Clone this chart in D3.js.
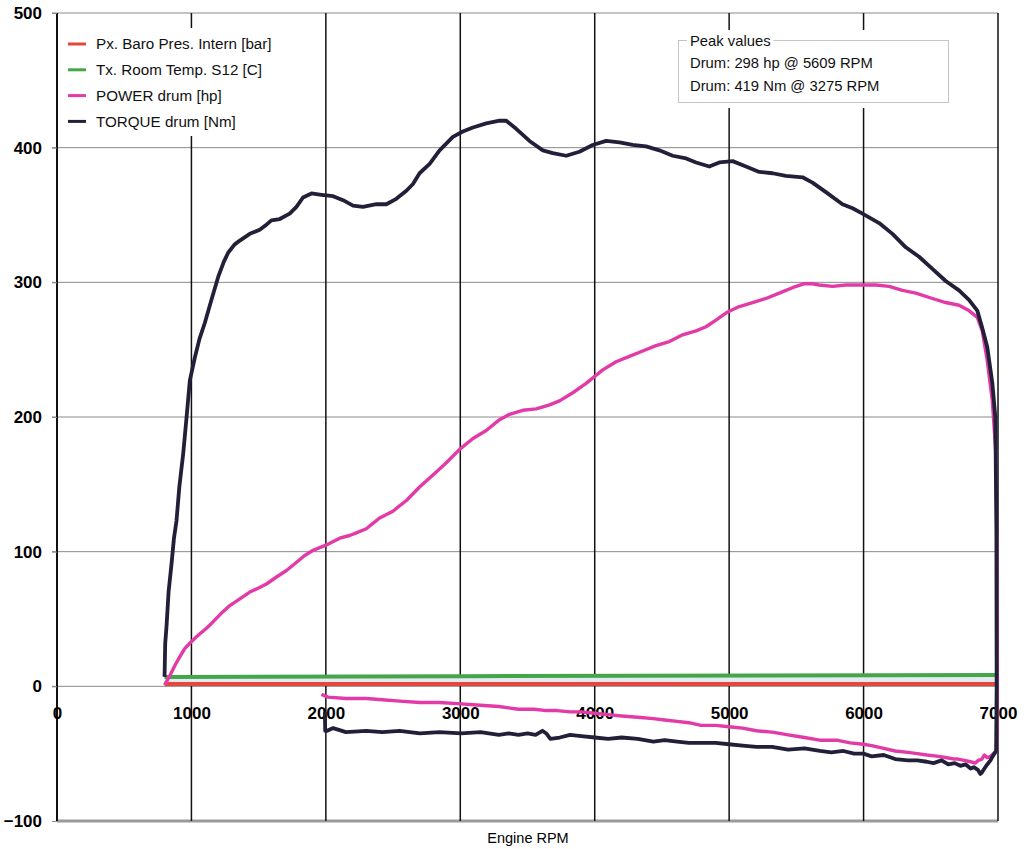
<!DOCTYPE html>
<html lang="en">
<head>
<meta charset="UTF-8">
<title>Dyno run - Power and Torque</title>
<script src="https://cdn.jsdelivr.net/npm/d3@7"></script>
<style>
	body { margin: 0; background: #fff; }
	svg { display: block; font-family: "Liberation Sans", Arial, sans-serif; }
	.ylab text, .xlab text { font-weight: bold; font-size: 17px; fill: #000; }
	.legend text { font-size: 15.2px; fill: #111; }
	.peak text { font-size: 14.8px; fill: #111; }
</style>
</head>
<body>
<div id="container"></div>
<script>

	// ticks
	var xTicks = [0, 1000, 2000, 3000, 4000, 5000, 6000, 7000];
	var yTicks = [-100, 0, 100, 200, 300, 400, 500];

	// series [rpm, value]
	var baroRun = [[800, 1.8], [7000, 1.8]];
	var roomTempRun = [[800, 7], [3000, 7.5], [7000, 8.5]];

	var torqueRun = [[800,7],[805,32],[815,45],[830,70],[852,91],[870,110],[889,123],[910,148],[939,173],[964,200],[988,227],[1025,244],[1060,258],[1100,270],[1149,287],[1199,304],[1240,315],[1273,322],[1320,328],[1360,331],[1434,336],[1508,339],[1560,343],[1595,346],[1657,347],[1731,351],[1781,356],[1830,363],[1893,366],[1967,365],[2054,364],[2128,361],[2202,357],[2276,356],[2376,358],[2450,358],[2524,362],[2599,368],[2648,373],[2697,381],[2772,388],[2846,398],[2945,408],[3019,412],[3094,415],[3193,418],[3292,420],[3342,420],[3416,414],[3515,405],[3614,398],[3688,396],[3788,394],[3886,397],[3985,402],[4085,405],[4184,404],[4283,402],[4382,401],[4481,398],[4580,394],[4680,392],[4754,389],[4852,386],[4927,389],[5026,390],[5125,386],[5224,382],[5323,381],[5422,379],[5546,378],[5620,374],[5720,367],[5843,358],[5918,355],[5992,351],[6116,344],[6215,336],[6314,326],[6413,319],[6512,310],[6611,301],[6710,294],[6784,287],[6846,279],[6883,266],[6920,252],[6958,225],[6980,200],[6988,120],[6990,0],[6986,-48]];

	var torqueCoast = [[6960,-52],[6944,-55],[6920,-58],[6899,-61],[6880,-64],[6869,-65],[6850,-62],[6820,-60],[6796,-61],[6760,-58],[6720,-59],[6678,-57],[6630,-58],[6580,-55],[6520,-57],[6471,-56],[6400,-55],[6330,-55],[6235,-54],[6150,-51],[6060,-52],[5999,-50],[5930,-50],[5850,-48],[5760,-49],[5675,-48],[5560,-46],[5439,-47],[5320,-45],[5203,-45],[5100,-44],[4997,-43],[4900,-42],[4790,-42],[4700,-42],[4613,-41],[4520,-40],[4436,-41],[4320,-39],[4200,-38],[4100,-39],[4000,-38],[3900,-37],[3817,-36],[3740,-38],[3670,-39],[3640,-35],[3611,-33],[3560,-36],[3500,-35],[3433,-36],[3360,-35],[3287,-36],[3150,-34],[3006,-35],[2845,-34],[2700,-35],[2549,-33],[2420,-34],[2301,-33],[2150,-34],[2054,-31],[2010,-33],[1995,-33],[1993,-19]];

	var powerRun = [[800,1],[840,8],[880,16],[914,22],[950,28],[988,32],[1030,36],[1063,39],[1110,43],[1162,48],[1220,54],[1286,60],[1360,65],[1434,70],[1500,73],[1558,76],[1630,81],[1707,86],[1780,92],[1840,97],[1905,101],[2004,105],[2103,110],[2177,112],[2227,114],[2301,117],[2350,121],[2400,125],[2499,130],[2560,135],[2599,138],[2697,148],[2797,157],[2896,166],[2995,176],[3094,184],[3193,190],[3292,198],[3366,202],[3465,205],[3565,206],[3664,209],[3738,212],[3837,218],[3936,225],[3998,230],[4060,235],[4159,241],[4258,245],[4357,249],[4456,253],[4555,256],[4654,261],[4754,264],[4828,267],[4902,272],[4989,278],[5076,282],[5174,285],[5274,288],[5373,292],[5471,296],[5560,299],[5609,299],[5670,298],[5769,297],[5868,298],[5967,298],[6091,298],[6190,297],[6289,294],[6389,292],[6512,288],[6611,285],[6710,283],[6784,279],[6846,274],[6883,264],[6920,242],[6958,212],[6983,175],[6992,100],[6995,0],[6990,-48]];

	var powerCoast = [[6965,-50],[6944,-52],[6920,-53],[6899,-51],[6880,-54],[6854,-55],[6830,-57],[6796,-56],[6750,-55],[6700,-54],[6678,-54],[6620,-53],[6560,-52],[6471,-51],[6400,-50],[6330,-49],[6235,-48],[6150,-46],[6060,-44],[5999,-43],[5900,-42],[5800,-40],[5675,-40],[5560,-38],[5439,-36],[5320,-34],[5203,-33],[5100,-31],[4997,-30],[4900,-29],[4790,-29],[4700,-27],[4613,-26],[4520,-25],[4436,-24],[4320,-23],[4200,-22],[4100,-21],[4000,-20],[3900,-19],[3817,-19],[3720,-18],[3640,-18],[3550,-17],[3433,-17],[3360,-16],[3287,-15],[3150,-14],[3006,-13],[2845,-12],[2700,-12],[2549,-11],[2420,-10],[2301,-9],[2150,-9],[2016,-8],[1967,-6]];

	var legendNames = ["Px. Baro Pres. Intern [bar]", "Tx. Room Temp. S12 [C]", "POWER drum [hp]", "TORQUE drum [Nm]"];
	var seriesColors = ["#e5473d", "#44a649", "#e23aa6", "#221f38"];
	var seriesWidths = [4, 4, 3.4, 3.8];

	var peakTitle = "Peak values";
	var peakLines = ["Drum: 298 hp @ 5609 RPM", "Drum: 419 Nm @ 3275 RPM"];

	var width = 1024;
	var height = 849;

	var svg = d3.select("#container").append("svg")
			.attr("width", width)
			.attr("height", height);

	var x = d3.scaleLinear().domain([0, 7000]).range([57, 998]);
	var y = d3.scaleLinear().domain([-100, 500]).range([821, 13]);

	// horizontal grid (grey)
	svg.append("g").selectAll("line")
		.data(yTicks.filter(function(d){ return d > -100; }))
		.enter().append("line")
			.attr("x1", 52).attr("x2", x(7000))
			.attr("y1", function(d){ return y(d); })
			.attr("y2", function(d){ return y(d); })
			.attr("stroke", "#8a8a8a")
			.attr("stroke-width", 1);

	// bottom frame line
	svg.append("line")
		.attr("x1", x(0)).attr("x2", x(7000))
		.attr("y1", y(-100)).attr("y2", y(-100))
		.attr("stroke", "#9a9a9a")
		.attr("stroke-width", 3);

	// vertical grid (black)
	svg.append("g").selectAll("line")
		.data(xTicks)
		.enter().append("line")
			.attr("x1", function(d){ return x(d); })
			.attr("x2", function(d){ return x(d); })
			.attr("y1", y(500)).attr("y2", y(-100))
			.attr("stroke", "#111")
			.attr("stroke-width", function(d){ return d === 0 ? 2 : 1.5; });

	// y labels
	var yAxis = d3.axisLeft(y).tickValues(yTicks).tickSize(5).tickPadding(10);
	var gy = svg.append("g").attr("class", "ylab")
		.attr("transform", "translate(" + x(0) + ",0)")
		.call(yAxis);
	gy.select(".domain").remove();
	gy.selectAll(".tick line").attr("stroke", "#8a8a8a");

	// x labels sit just under the zero line
	var xAxis = d3.axisBottom(x).tickValues(xTicks).tickSize(0).tickPadding(21)
		.tickFormat(d3.format("d"));
	var gx = svg.append("g").attr("class", "xlab")
		.attr("transform", "translate(0," + y(0) + ")")
		.call(xAxis);
	gx.select(".domain").remove();

	svg.append("text")
		.attr("x", 528)
		.attr("y", 843)
		.attr("text-anchor", "middle")
		.style("font-size", "14.5px")
		.text("Engine RPM");

	// light band between baro and room temp lines
	svg.append("path")
		.datum(roomTempRun)
		.attr("fill", "#e4eaf1")
		.attr("d", d3.area()
			.x(function(d){ return x(d[0]); })
			.y0(y(1.8))
			.y1(function(d){ return y(d[1]); }));

	var line = d3.line()
		.x(function(d){ return x(d[0]); })
		.y(function(d){ return y(d[1]); });

	var series = [baroRun, roomTempRun, powerRun.concat(powerCoast), torqueRun.concat(torqueCoast)];

	svg.append("g").selectAll("path")
		.data(series)
		.enter().append("path")
			.attr("fill", "none")
			.attr("stroke", function(d, i){ return seriesColors[i]; })
			.attr("stroke-width", function(d, i){ return seriesWidths[i]; })
			.attr("stroke-linejoin", "round")
			.attr("d", line);

	// legend
	var legend = svg.append("g").attr("class", "legend");
	legend.append("rect")
		.attr("x", 60).attr("y", 28)
		.attr("width", 232).attr("height", 108)
		.attr("fill", "#fff");
	var items = legend.selectAll("g")
		.data(legendNames)
		.enter().append("g")
			.attr("transform", function(d, i){ return "translate(0," + (44 + i * 25.8) + ")"; });
	items.append("line")
		.attr("x1", 68).attr("x2", 86)
		.attr("stroke", function(d, i){ return seriesColors[i]; })
		.attr("stroke-width", 3);
	items.append("text")
		.attr("x", 96)
		.attr("dy", "0.36em")
		.text(function(d){ return d; });

	// peak values box
	var peak = svg.append("g").attr("class", "peak");
	peak.append("rect")
		.attr("x", 670).attr("y", 30)
		.attr("width", 286).attr("height", 78)
		.attr("fill", "#fff");
	peak.append("rect")
		.attr("x", 678.5).attr("y", 40.5)
		.attr("width", 270).attr("height", 62)
		.attr("fill", "none")
		.attr("stroke", "#c4c4c4");
	var tw = peak.append("text")
		.attr("x", 690).attr("y", 46)
		.text(peakTitle);
	var bb = tw.node().getBBox();
	peak.insert("rect", "text")
		.attr("x", bb.x - 3).attr("y", 38)
		.attr("width", bb.width + 6).attr("height", 6)
		.attr("fill", "#fff");
	peak.selectAll("text.pl")
		.data(peakLines)
		.enter().append("text")
			.attr("class", "pl")
			.attr("x", 690)
			.attr("y", function(d, i){ return 68 + i * 23; })
			.text(function(d){ return d; });

</script>
</body>
</html>
